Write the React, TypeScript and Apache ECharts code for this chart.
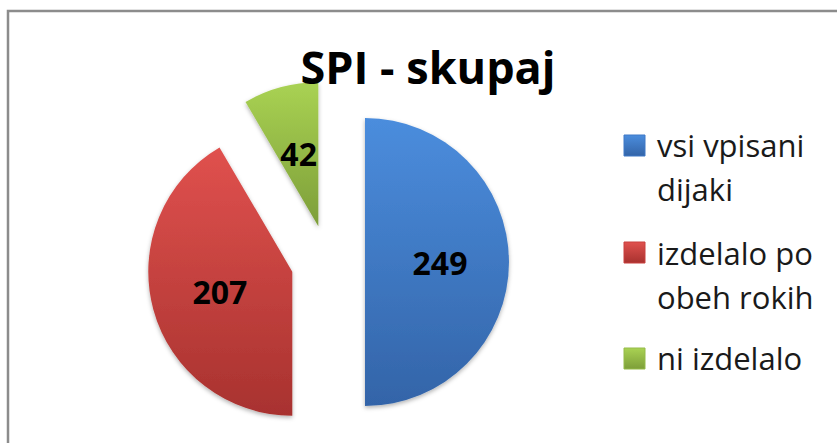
import React, { useEffect, useRef } from "react";
import * as echarts from "echarts";

const TITLE = "SPI - skupaj";
const categories = ["vsi vpisani\ndijaki", "izdelalo po\nobeh rokih", "ni izdelalo"];
const values = [249, 207, 42];
const colorsTop = ["#4b8ddd", "#e0514e", "#a9d253"];
const colorsBottom = ["#3364a8", "#a8322f", "#7d9e39"];
const legendIconColors = ["#3f78c6", "#c9413e", "#95bb48"];

export default function App() {
  const ref = useRef<HTMLDivElement>(null);
  useEffect(() => {
    if (!ref.current) return;
    const chart = echarts.init(ref.current, undefined, { renderer: "svg" });
    const font = "'Open Sans', 'Noto Sans', sans-serif";
    const legendTops = [123, 231, 336];
    const legendIconTops = [135, 242, 348];
    const legendGraphics: any[] = [];
    categories.forEach((c, i) => {
      legendGraphics.push({
        type: "rect",
        shape: { x: 624, y: legendIconTops[i], width: 21, height: 21 },
        style: {
          fill: new echarts.graphic.LinearGradient(0, 0, 0, 1, [
            { offset: 0, color: colorsTop[i] },
            { offset: 1, color: colorsBottom[i] },
          ]),
          stroke: legendIconColors[i],
          lineWidth: 1,
        },
      });
      legendGraphics.push({
        type: "text",
        x: 657,
        y: legendTops[i],
        style: {
          text: c,
          font: `31px ${font}`,
          fill: "#1a1a1a",
          lineHeight: 44,
          verticalAlign: "top",
          align: "left",
        },
      });
    });
    chart.setOption({
      animation: false,
      backgroundColor: "#ffffff",
      title: {
        text: TITLE,
        left: 428,
        top: 41,
        textAlign: "center",
        padding: 0,
        textStyle: { fontFamily: font, fontWeight: "bold", fontSize: 45, lineHeight: 50, color: "#000" },
      },
      graphic: [
        {
          type: "rect",
          z: -10,
          shape: { x: 8, y: 11, width: 1000, height: 1000 },
          style: { fill: "none", stroke: "#8c8c8c", lineWidth: 2.5 },
        },
        ...legendGraphics,
      ],
      series: [
        {
          type: "pie",
          center: [328, 262],
          radius: 144,
          startAngle: 90,
          clockwise: true,
          selectedMode: "multiple",
          selectedOffset: 37,
          emphasis: { scale: false },
          label: {
            show: true,
            position: "inside",
            formatter: "{c}",
            fontFamily: font,
            fontWeight: "bold",
            fontSize: 32,
            color: "#000",
          },
          labelLine: { show: false },
          data: values.map((v, i) => ({
            name: categories[i],
            value: v,
            selected: true,
            itemStyle: {
              color: new echarts.graphic.LinearGradient(0, 0, 0, 1, [
                { offset: 0, color: colorsTop[i] },
                { offset: 1, color: colorsBottom[i] },
              ]),
              shadowBlur: 4,
              shadowColor: "rgba(0,0,0,0.3)",
              shadowOffsetY: 2,
            },
          })),
        },
      ],
    });
    return () => chart.dispose();
  }, []);
  return (
    <div
      ref={ref}
      style={{ position: "absolute", left: 0, top: 0, width: 837, height: 443 }}
    />
  );
}
